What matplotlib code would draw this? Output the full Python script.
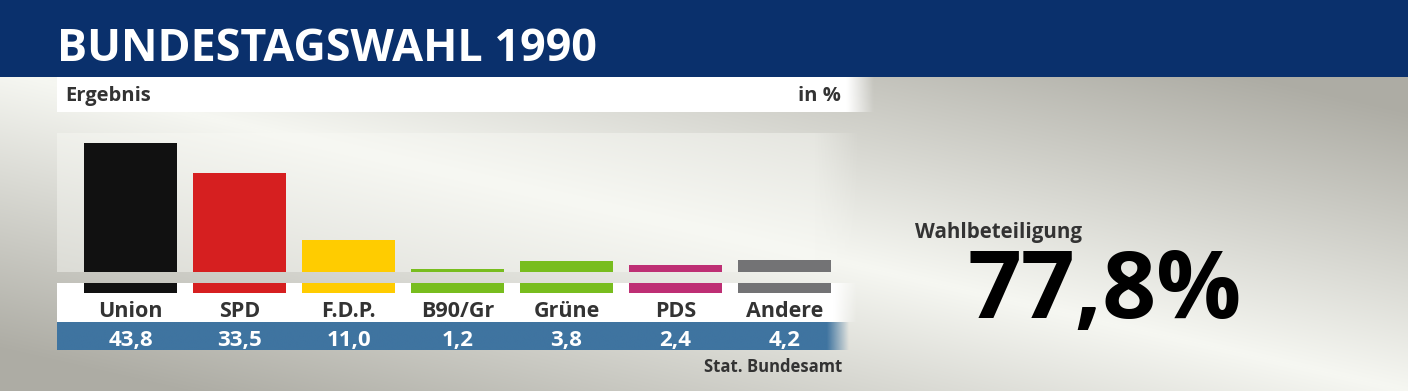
import numpy as np
import matplotlib
matplotlib.use("Agg")
import matplotlib.pyplot as plt
from matplotlib import transforms

# ---- data ----
parties = ["Union", "SPD", "F.D.P.", "B90/Gr", "Grüne", "PDS", "Andere"]
values = [43.8, 33.5, 11.0, 1.2, 3.8, 2.4, 4.2]
colors = ["#111111", "#d61f20", "#ffcc00", "#78bd1e", "#78bd1e", "#be2f74", "#737375"]
title = "BUNDESTAGSWAHL 1990"
subtitle = "Ergebnis"
unit = "in %"
source = "Stat. Bundesamt"
turnout_label = "Wahlbeteiligung"
turnout = 77.8

W, H = 1408, 391
DPI = 100
FONT = "Open Sans"
plt.rcParams["font.family"] = [FONT, "DejaVu Sans"]

fig = plt.figure(figsize=(W / DPI, H / DPI), dpi=DPI)

# background axes in pixel coordinates
bg = fig.add_axes([0, 0, 1, 1])
bg.set_xlim(0, W)
bg.set_ylim(H, 0)
bg.axis("off")

xs = np.arange(W) + 0.5
ys = np.arange(H) + 0.5
X, Y = np.meshgrid(xs, ys)
light = np.array([0.965, 0.969, 0.949])
dark = np.array([0.682, 0.678, 0.647])
d = np.abs(Y - (70 + 0.228 * X)) / 1.026
t = np.clip(d / 270.0, 0, 1)[..., None]
bgimg = light * (1 - t) + dark * t
bg.imshow(bgimg, extent=[0, W, H, 0], aspect="auto", zorder=0, interpolation="bilinear")


def fade_rect(x0, x1, y0, y1, color, fade0, fade1, z):
    """rectangle whose alpha fades out between fade0 and fade1 (pixel x)"""
    n = 400
    xx = np.linspace(x0, x1, n)
    a = np.clip((fade1 - xx) / (fade1 - fade0), 0, 1)
    img = np.zeros((1, n, 4))
    img[0, :, :3] = matplotlib.colors.to_rgb(color)
    img[0, :, 3] = a
    bg.imshow(img, extent=[x0, x1, y1, y0], aspect="auto", zorder=z, interpolation="bilinear")


# plot area (lighter version of background)
lt2 = np.array([0.973, 0.976, 0.957])
px0, px1, py0, py1 = 57, 870, 133, 272
sub = bgimg[py0:py1, px0:px1]
pa = sub + (lt2 - sub) * 0.45
xx = np.arange(px0, px1) + 0.5
alpha = np.clip((860 - xx) / 45.0, 0, 1)
pa_rgba = np.dstack([pa, np.broadcast_to(alpha, pa.shape[:2])])
bg.imshow(pa_rgba, extent=[px0, px1, py1, py0], aspect="auto", zorder=1, interpolation="bilinear")

# header band
bg.add_patch(plt.Rectangle((0, 0), W, 77, color="#0a306c", zorder=2, lw=0))
bg.text(57, 61, title, color="white", fontsize=32.3, fontweight="bold", va="baseline", ha="left", zorder=5)

# Ergebnis strip
fade_rect(57, 880, 77, 112, "white", 848, 875, 2)
bg.text(65, 101, subtitle, color="#333333", fontsize=14.5, fontweight="bold", va="baseline", ha="left", zorder=5)
bg.text(841, 101, unit, color="#333333", fontsize=14.5, fontweight="bold", va="baseline", ha="right", zorder=5)

# label strip and value strip
fade_rect(57, 860, 283, 322, "white", 835, 858, 2)
fade_rect(57, 860, 322, 350, "#3f74a0", 828, 850, 2)

bg.text(842, 372.5, source, color="#333333", fontsize=12, fontweight="bold", va="baseline", ha="right", zorder=5)

# turnout
bg.text(915, 238, turnout_label, color="#333333", fontsize=14.8, fontweight="bold", va="baseline", ha="left", zorder=5)
bg.text(967, 318, f"{turnout:.1f}%".replace(".", ","), color="black", fontsize=68, fontweight="bold",
        va="baseline", ha="left", zorder=5)

# ---- bar axes ----
scale = 2.96  # px per percent
base_px = 272.2
ax_x0, ax_x1, ax_y0, ax_y1 = 57, 850, 133, 293
ax = fig.add_axes([ax_x0 / W, 1 - ax_y1 / H, (ax_x1 - ax_x0) / W, (ax_y1 - ax_y0) / H])
ax.patch.set_alpha(0)
ax.axis("off")
pitch = 109.0
c0 = 130.5
ax.set_xlim((ax_x0 - c0) / pitch, (ax_x1 - c0) / pitch)
ax.set_ylim(-(ax_y1 - base_px) / scale, (base_px - ax_y0) / scale)
pos = np.arange(len(parties))
bw = 93 / pitch
ax.bar(pos, values, width=bw, color=colors, zorder=3)
stub_top = -(283 - base_px) / scale
stub_bot = -(293 - base_px) / scale
ax.bar(pos, [stub_top - stub_bot] * len(pos), bottom=stub_bot, width=bw, color=colors, zorder=3)

tr = transforms.blended_transform_factory(ax.transData, bg.transData)
for i, (p, v) in enumerate(zip(parties, values)):
    ax.text(i, 316.7, p, transform=tr, ha="center", va="baseline", fontsize=15.5,
            fontweight="bold", color="#333333", clip_on=False)
    ax.text(i, 346, f"{v:.1f}".replace(".", ","), transform=tr, ha="center", va="baseline",
            fontsize=16, fontweight="bold", color="white", clip_on=False)

fig.savefig("out.png", dpi=DPI)
